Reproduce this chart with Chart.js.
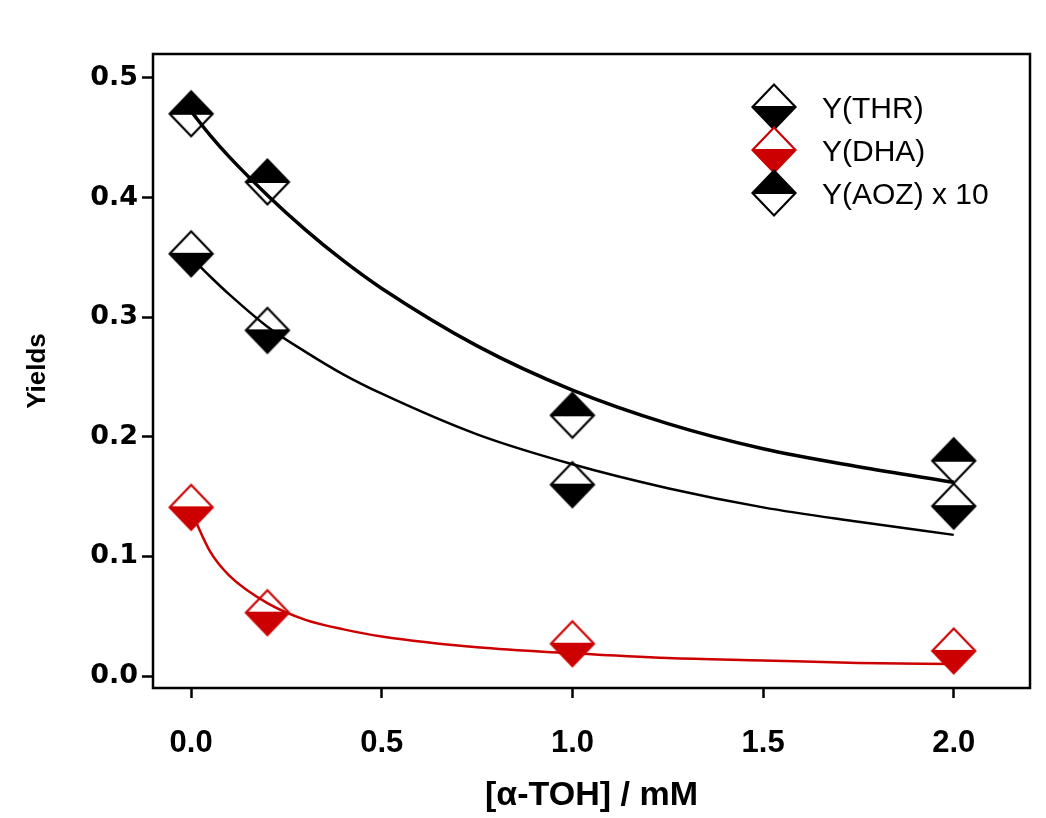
<!DOCTYPE html>
<html>
<head>
<meta charset="utf-8">
<script src="https://cdn.jsdelivr.net/npm/chart.js@4"></script>
<style>
  body { margin: 0; background: #fff; }
  canvas { display: block; }
</style>
</head>
<body>
<canvas id="yieldChart" width="1046" height="818"></canvas>
<script>
// measured points
const conc = [0, 0.2, 1.0, 2.0];
const yThr = [0.353, 0.289, 0.160, 0.142];
const yDha = [0.141, 0.053, 0.027, 0.021];
const yAoz = [0.470, 0.413, 0.218, 0.180];

// fitted curves
const fitX = [0, 0.05, 0.1, 0.2, 0.3, 0.4, 0.5, 0.75, 1.0, 1.25, 1.5, 1.75, 2.0];
const fitThr = [0.350, 0.334, 0.319, 0.292, 0.271, 0.252, 0.236, 0.202, 0.177, 0.157, 0.141, 0.129, 0.118];
const fitDha = [0.138, 0.104, 0.084, 0.061, 0.047, 0.039, 0.033, 0.024, 0.019, 0.015, 0.013, 0.011, 0.010];
const fitAoz = [0.472, 0.452, 0.434, 0.402, 0.373, 0.347, 0.324, 0.276, 0.239, 0.211, 0.190, 0.175, 0.162];

const xTicks = [0, 0.5, 1.0, 1.5, 2.0];
const yTicks = [0, 0.1, 0.2, 0.3, 0.4, 0.5];

const RED = "#cc0000";

// half-filled diamond used as point style
function makeDiamond(topFill, bottomFill, edge) {
  const c = document.createElement("canvas");
  c.width = 50;
  c.height = 50;
  const g = c.getContext("2d");
  const cx = 25, cy = 25, w = 21.5, h = 22.5;
  g.beginPath();
  g.moveTo(cx - w, cy); g.lineTo(cx, cy - h); g.lineTo(cx + w, cy); g.closePath();
  g.fillStyle = topFill; g.fill();
  g.beginPath();
  g.moveTo(cx - w, cy); g.lineTo(cx, cy + h); g.lineTo(cx + w, cy); g.closePath();
  g.fillStyle = bottomFill; g.fill();
  g.beginPath();
  g.moveTo(cx - w, cy); g.lineTo(cx, cy - h); g.lineTo(cx + w, cy); g.lineTo(cx, cy + h); g.closePath();
  g.moveTo(cx - w, cy); g.lineTo(cx + w, cy);
  g.lineWidth = 2.2;
  g.strokeStyle = edge;
  g.stroke();
  return c;
}

const markThr = makeDiamond("#fff", "#000", "#000");
const markDha = makeDiamond("#fff", RED, RED);
const markAoz = makeDiamond("#000", "#fff", "#000");

const pts = (xs, ys) => xs.map((x, i) => ({ x, y: ys[i] }));

function fitSet(ys, color, width) {
  return {
    data: pts(fitX, ys),
    borderColor: color,
    borderWidth: width,
    pointRadius: 0,
    cubicInterpolationMode: "monotone",
    fill: false,
    order: 0,
  };
}

// the image sets the drawn size; keep radius small so the layout adds no overflow padding
function markSet(label, ys, img) {
  return {
    label,
    data: pts(conc, ys),
    showLine: false,
    pointStyle: img,
    pointRadius: 1,
    pointHoverRadius: 1,
    order: 1,
    legendImg: img,
  };
}

const framePlugin = {
  id: "frame",
  beforeDatasetsDraw(chart) {
    const { ctx, chartArea: a } = chart;
    ctx.save();
    ctx.strokeStyle = "#000";
    ctx.lineWidth = 2.5;
    ctx.strokeRect(a.left, a.top, a.right - a.left, a.bottom - a.top);
    ctx.restore();
  },
};

const legendPlugin = {
  id: "innerLegend",
  afterDraw(chart) {
    const { ctx, chartArea: a } = chart;
    const items = chart.data.datasets.filter((d) => d.legendImg);
    const x0 = a.right - 256;
    const y0 = a.top + 53;
    ctx.save();
    ctx.font = "30px 'Liberation Sans', Arial, sans-serif";
    ctx.fillStyle = "#000";
    ctx.textBaseline = "middle";
    items.forEach((d, i) => {
      const y = y0 + i * 43;
      ctx.drawImage(d.legendImg, x0 - 25, y - 25);
      ctx.fillText(d.label, x0 + 48, y + 3);
    });
    ctx.restore();
  },
};

new Chart(document.getElementById("yieldChart"), {
  type: "scatter",
  data: {
    datasets: [
      fitSet(fitAoz, "#000", 3.5),
      fitSet(fitThr, "#000", 2.5),
      fitSet(fitDha, RED, 2.5),
      markSet("Y(THR)", yThr, markThr),
      markSet("Y(DHA)", yDha, markDha),
      markSet("Y(AOZ) x 10", yAoz, markAoz),
    ],
  },
  options: {
    responsive: false,
    animation: false,
    layout: { padding: { top: 54, right: 16, left: 0, bottom: 0 } },
    plugins: {
      legend: { display: false },
      tooltip: { enabled: false },
    },
    datasets: { scatter: { showLine: true } },
    scales: {
      x: {
        type: "linear",
        min: -0.1,
        max: 2.2,
        afterBuildTicks: (s) => { s.ticks = xTicks.map((v) => ({ value: v })); },
        afterFit: (s) => { s.height = 130; },
        grid: { drawOnChartArea: false, tickLength: 10, tickColor: "#000", tickWidth: 2.5 },
        border: { display: false },
        ticks: {
          color: "#000",
          padding: 27,
          font: { family: "'Liberation Sans Narrow', 'Liberation Sans', Arial", size: 31, weight: "bold" },
          callback: (v) => v.toFixed(1),
        },
        title: {
          display: true,
          text: "[α-TOH] / mM",
          color: "#000",
          font: { family: "'Liberation Sans Narrow', 'Liberation Sans', Arial", size: 34, weight: "bold" },
          padding: { top: 0, bottom: 2 },
        },
      },
      y: {
        type: "linear",
        min: -0.01,
        max: 0.52,
        afterBuildTicks: (s) => { s.ticks = yTicks.map((v) => ({ value: v })); },
        afterFit: (s) => { s.width = 153; },
        grid: { drawOnChartArea: false, tickLength: 11, tickColor: "#000", tickWidth: 2.5 },
        border: { display: false },
        ticks: {
          color: "#000",
          padding: 4,
          font: { family: "'DejaVu Sans', sans-serif", size: 27, weight: "bold" },
          callback: (v) => v.toFixed(1),
        },
        title: {
          display: true,
          text: "Yields",
          color: "#000",
          font: { family: "'Liberation Sans', Arial", size: 26, weight: "bold" },
          padding: { top: 22, bottom: 0 },
        },
      },
    },
  },
  plugins: [framePlugin, legendPlugin],
});
</script>
</body>
</html>
